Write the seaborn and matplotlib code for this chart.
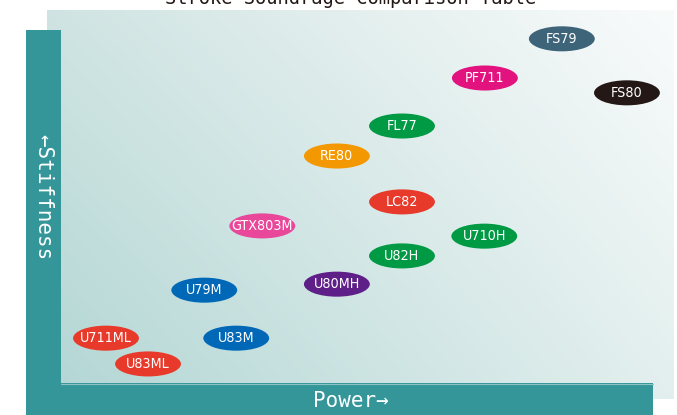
import numpy as np
import pandas as pd
import matplotlib
matplotlib.use("Agg")
import matplotlib.pyplot as plt
import seaborn as sns
from matplotlib.path import Path
from matplotlib.patches import Rectangle
from matplotlib.colors import to_rgb
from matplotlib import font_manager
from matplotlib.font_manager import FontProperties

# ---- data ----
models = ["FS79", "PF711", "FS80", "FL77", "RE80", "LC82", "GTX803M",
          "U710H", "U82H", "U80MH", "U79M", "U711ML", "U83M", "U83ML"]
power = [8.46, 7.16, 9.56, 5.76, 4.66, 5.76, 3.40,
         7.15, 5.76, 4.66, 2.42, 0.76, 2.96, 1.47]
stiffness = [9.75, 8.64, 8.22, 7.28, 6.43, 5.13, 4.45,
             4.16, 3.60, 2.80, 2.63, 1.27, 1.27, 0.54]
colors = ["#3d6478", "#e2127f", "#231815", "#009944", "#f39800", "#e83a2b", "#e8479a",
          "#009944", "#009944", "#5f1f88", "#0068b7", "#e83a2b", "#0068b7", "#e83a2b"]
title = "Stroke Soundrage Comparison Table"
xlabel = "Power\u2192"
ylabel = "\u2190Stiffness"

sns.set_theme(style="white")
plt.rcParams["font.family"] = ["DejaVu Sans"]

# find a condensed / narrow face if one is installed
cands = []
for f in font_manager.fontManager.ttflist:
    nm = (f.name + " " + f.fname).lower()
    st = str(f.stretch).lower()
    if ("condensed" in st or "narrow" in nm or "condensed" in nm or "cond" in nm) \
            and "italic" not in nm and "oblique" not in nm and f.style == "normal":
        w = f.weight if isinstance(f.weight, int) else 400
        cands.append((abs(w - 450), "extra" in st or "ultra" in st, f.fname))
cands.sort()
if cands:
    label_fp = FontProperties(fname=cands[0][2], size=10.3)
else:
    label_fp = FontProperties(family="DejaVu Sans", size=9.3)

fig = plt.figure(figsize=(6.77, 4.15), dpi=100)
fig.patch.set_facecolor("white")

# ---- decorative background (pixel coordinates) ----
bg = fig.add_axes([0, 0, 1, 1])
bg.axis("off")
x0, x1, y0, y1 = 47, 674, 11, 399
nx, ny = 300, 200
u = np.linspace(0, 1, nx)[None, :, None]
v = np.linspace(0, 1, ny)[:, None, None]
TL = np.array(to_rgb("#cfe4e2"))
TR = np.array(to_rgb("#f9fbfb"))
BL = np.array(to_rgb("#b2d6d4"))
BR = np.array(to_rgb("#e2efee"))
img = (1 - u) * (1 - v) * TL + u * (1 - v) * TR + (1 - u) * v * BL + u * v * BR
bg.imshow(img, extent=(x0, x1, y1, y0), aspect="auto", interpolation="bilinear", zorder=0)
teal = "#35969a"
bg.add_patch(Rectangle((26, 30), 35, 385, color=teal, lw=0, zorder=1))
bg.add_patch(Rectangle((26, 383), 627, 32, color=teal, lw=0, zorder=1))
bg.plot([61, 653], [383.5, 383.5], color="#8cc3c4", lw=0.8, zorder=2)
bg.set_xlim(0, 677)
bg.set_ylim(415, 0)

mono = "DejaVu Sans Mono"
bg.text(43, 197, ylabel, rotation=-90, family=mono, fontsize=15, color="white",
        ha="center", va="center", zorder=3)
bg.text(351, 401, xlabel, family=mono, fontsize=15, color="white",
        ha="center", va="center", zorder=3)
bg.text(351, 4.5, title, family=mono, fontsize=13.5, color="#231815",
        ha="center", va="baseline", zorder=3)

# ---- data axes ----
ax = fig.add_axes([61 / 677, 32 / 415, 592 / 677, 353 / 415])
ax.patch.set_alpha(0)
circ = Path.unit_circle()
ell = Path(circ.vertices * np.array([1.0, 0.38]), circ.codes)

df = pd.DataFrame({"model": models, "power": power, "stiffness": stiffness})
sns.scatterplot(data=df, x="power", y="stiffness", hue="model",
                palette=dict(zip(models, colors)), marker=ell, s=2250,
                linewidth=0, legend=False, ax=ax, clip_on=False)
for m, px, py in zip(models, power, stiffness):
    ax.text(px, py, m, color="white", ha="center", va="center",
            fontproperties=label_fp)
ax.set_xlim(0, 10)
ax.set_ylim(0, 10)
ax.axis("off")

fig.savefig("out.png", dpi=100)
